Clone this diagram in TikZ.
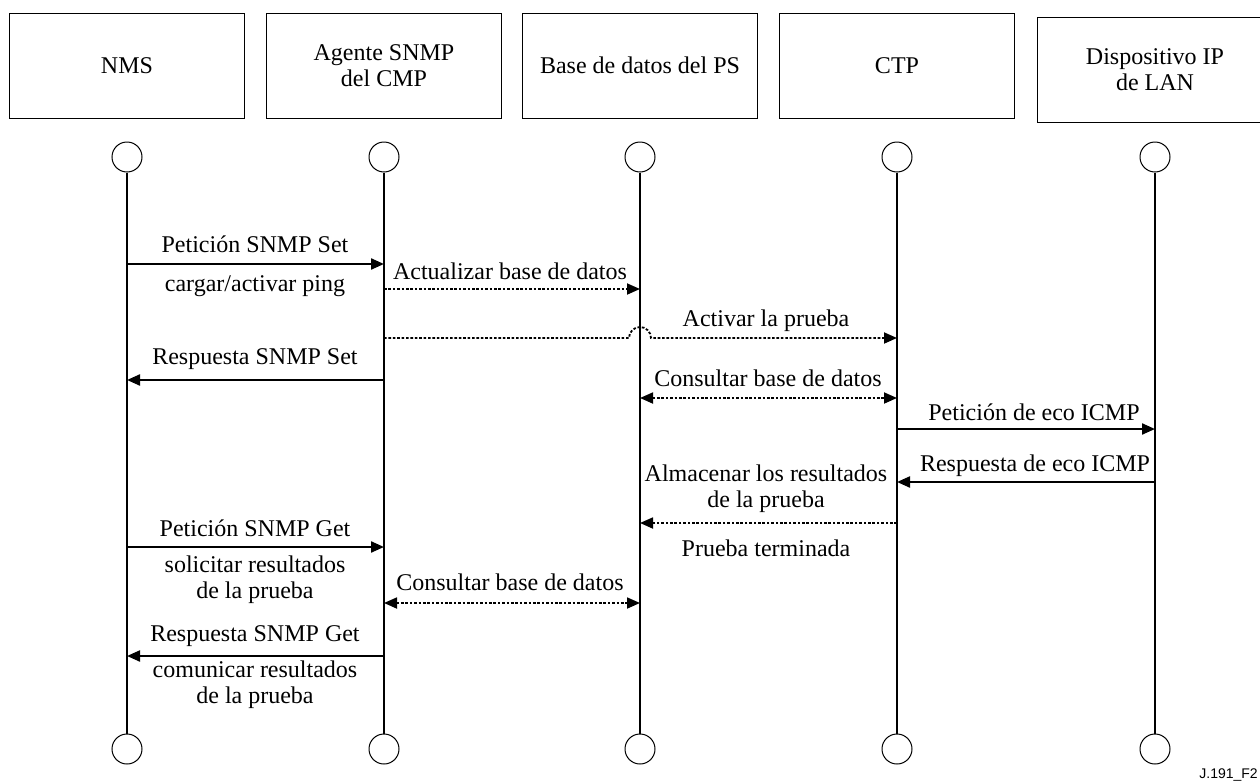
\documentclass[tikz,border=0pt]{standalone}
\usepackage{fontspec}
\setmainfont{Liberation Serif}
\newfontfamily\figsans{Liberation Sans}
\usetikzlibrary{arrows.meta,calc}
\begin{document}
\begin{tikzpicture}[x=0.5pt,y=-0.5pt,
  font=\fontsize{12}{13}\selectfont,
  actor/.style={draw,line width=0.5pt,minimum width=117.5pt,minimum height=52.5pt,
    align=center,inner sep=0pt},
  endpt/.style={draw,circle,line width=0.5pt,minimum size=15pt,inner sep=0pt},
  life/.style={line width=1.1pt},
  tip/.style={-{Triangle[length=6.5pt,width=5.5pt]}},
  msg/.style={life,tip},
  dotmsg/.style={line width=0.9pt,dash pattern=on 1.3pt off 0.9pt,tip},
  dotboth/.style={line width=0.9pt,dash pattern=on 1.3pt off 0.9pt,
    {Triangle[length=6.5pt,width=5.5pt]}-{Triangle[length=6.5pt,width=5.5pt]}},
  lbl/.style={align=center,inner sep=0pt}]
\useasboundingbox (0,0) rectangle (1260,782);

% participants
\node[actor] (b1) at (127,65.5) {NMS};
\node[actor] (b2) at (384,65.5) {Agente SNMP\\del CMP};
\node[actor] (b3) at (640,65.5) {Base de datos del PS};
\node[actor] (b4) at (897,65.5) {CTP};
\node[actor] (b5) at (1155,69.5) {Dispositivo IP\\de LAN};

% lifeline end markers
\foreach \i/\x in {1/127,2/384,3/640,4/897,5/1155}{
  \node[endpt] (t\i) at (\x,157) {};
  \node[endpt] (e\i) at (\x,749) {};
  \draw[life] (t\i.south) -- (e\i.north);
}

% message rows
\foreach \r/\y in {1/264,2/289,3/338,4/380,5/398,6/429,7/482,8/523,9/547,10/603,11/656}{
  \coordinate (r\r) at (0,\y);
}

\draw[msg] (t1|-r1) -- (t2|-r1);
\draw[dotmsg] (t2|-r2) -- (t3|-r2);
% this message hops over the database lifeline
\draw[dotmsg] (t2|-r3) -- ($(t3|-r3)+(-11,0)$)
  arc[start angle=180,end angle=0,x radius=5.5pt,y radius=5.5pt] -- (t4|-r3);
\draw[msg] (t2|-r4) -- (t1|-r4);
\draw[dotboth] (t3|-r5) -- (t4|-r5);
\draw[msg] (t4|-r6) -- (t5|-r6);
\draw[msg] (t5|-r7) -- (t4|-r7);
\draw[dotmsg] (t4|-r8) -- (t3|-r8);
\draw[msg] (t1|-r9) -- (t2|-r9);
\draw[dotboth] (t2|-r10) -- (t3|-r10);
\draw[msg] (t2|-r11) -- (t1|-r11);

% message labels
\node[lbl] (l1) at (255,244) {Petición SNMP Set};
\node[lbl] (l2) at (255,286) {cargar/activar ping};
\node[lbl] (l3) at (510,271) {Actualizar base de datos};
\node[lbl] (l4) at (766,321) {Activar la prueba};
\node[lbl] (l5) at (255,359) {Respuesta SNMP Set};
\node[lbl] (l6) at (768,378) {Consultar base de datos};
\node[lbl] (l7) at (1034,412) {Petición de eco ICMP};
\node[lbl] (l8) at (1035,466) {Respuesta de eco ICMP};
\node[lbl] (l9) at (766,489) {Almacenar los resultados\\de la prueba};
\node[lbl] (l10) at (766,548) {Prueba terminada};
\node[lbl] (l11) at (255,528) {Petición SNMP Get};
\node[lbl] (l12) at (255,580) {solicitar resultados\\de la prueba};
\node[lbl] (l13) at (510,582) {Consultar base de datos};
\node[lbl] (l14) at (255,636) {Respuesta SNMP Get};
\node[lbl] (l15) at (255,685) {comunicar resultados\\de la prueba};

% figure reference
\node[anchor=base west,inner sep=0pt,font=\figsans\fontsize{7}{8}\selectfont]
  (ref) at (1199,778) {J.191\_F2};
\end{tikzpicture}
\end{document}
